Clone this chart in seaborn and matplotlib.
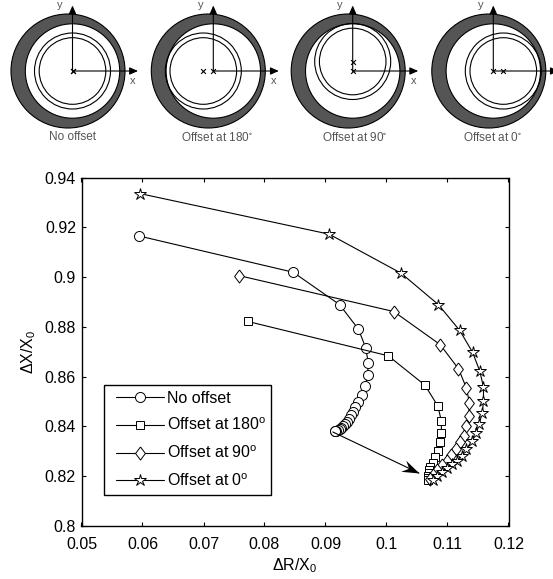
import matplotlib
matplotlib.use("Agg")
import matplotlib.pyplot as plt
from matplotlib.patches import Circle
from matplotlib.markers import MarkerStyle
from matplotlib.path import Path
from matplotlib.transforms import Affine2D
from matplotlib.legend_handler import HandlerLine2D
import numpy as np
import pandas as pd
import seaborn as sns

sns.set_style("ticks")
plt.rcParams['font.family'] = ['Liberation Sans', 'DejaVu Sans']
plt.rcParams['mathtext.default'] = 'regular'
plt.rcParams['mathtext.fontset'] = 'custom'
plt.rcParams['mathtext.rm'] = 'Liberation Sans'

series_names = ["No offset", "Offset at 180$^{o}$", "Offset at 90$^{o}$", "Offset at 0$^{o}$"]
no_offset_x = [.0594, .0847, .0923, .0954, .0966, .0970, .0969, .0965, .0960, .0954, .0948, .0945, .0941,
               .0938, .0935, .0932, .0929, .0926, .0923, .0920, .0918, .0916, .0915]
no_offset_y = [.9166, .9020, .8890, .8791, .8716, .8656, .8605, .8563, .8527, .8500, .8478, .8460, .8446,
               .8432, .8420, .8410, .8401, .8394, .8388, .8384, .8381, .8380, .8380]
off180_x = [.0773, .1003, .1063, .1084, .1090, .1090, .1088, .1084, .1080, .1076, .1072, .1070, .1069, .1068, .1068, .1068]
off180_y = [.8822, .8684, .8566, .8483, .8422, .8373, .8336, .8303, .8277, .8255, .8239, .8226, .8213, .8202, .8194, .8186]
off90_x = [.0759, .1012, .1088, .1118, .1131, .1136, .1135, .1131, .1127, .1120, .1114, .1106, .1099, .1091, .1083, .1077, .1071]
off90_y = [.9006, .8862, .8729, .8632, .8555, .8494, .8442, .8400, .8363, .8336, .8309, .8286, .8263, .8246, .8226, .8206, .8189]
off0_x = [.0596, .0906, .1024, .1085, .1120, .1141, .1153, .1159, .1159, .1157, .1152, .1147, .1140, .1131, .1123,
          .1115, .1107, .1099, .1091, .1083, .1077]
off0_y = [.9336, .9173, .9016, .8890, .8786, .8699, .8622, .8558, .8502, .8454, .8411, .8373, .8340, .8309, .8282,
          .8263, .8249, .8235, .8219, .8199, .8186]
x_ticks = [.05, .06, .07, .08, .09, .10, .11, .12]
x_tick_labels = ["0.05", "0.06", "0.07", "0.08", "0.09", "0.1", "0.11", "0.12"]
y_ticks = [.80, .82, .84, .86, .88, .90, .92, .94]
y_tick_labels = ["0.8", "0.82", "0.84", "0.86", "0.88", "0.9", "0.92", "0.94"]

panel_captions = ["No offset", "Offset at 180$^{\\circ}$", "Offset at 90$^{\\circ}$", "Offset at 0$^{\\circ}$"]
panel_origin_x = [72.5, 213.3, 352.7, 493.3]
caption_shift = [0, 3.5, 2, -1]
disk_shift = [-4.5, -5.0, -4.5, -4.5]
ring_dx = [0, -10, 0, 10]
ring_dy = [0, 0, 9.5, 0]
panel_has_x_label = [True, True, True, False]

W, H = 553, 579
fig = plt.figure(figsize=(W / 100, H / 100), dpi=100)

rows = []
for name, xs, ys in zip(series_names, [no_offset_x, off180_x, off90_x, off0_x], [no_offset_y, off180_y, off90_y, off0_y]):
    for i, (a, b) in enumerate(zip(xs, ys)):
        rows.append({"dR": a, "dX": b, "series": name, "i": i})
df = pd.DataFrame(rows)

diamond = [(0, 1), (.75, 0), (0, -1), (-.75, 0), (0, 1)]
L, R, T, B = 81.5, 508.5, 177.7, 526.0
ax = fig.add_axes([L / W, 1 - B / H, (R - L) / W, (B - T) / H])
sns.lineplot(data=df, x="dR", y="dX", hue="series", style="series", units="series", estimator=None, sort=False,
             palette=["black"] * 4, dashes=False, markers=["o", "s", diamond, "*"], ax=ax, legend=False, linewidth=0.8)
for line, ms in zip(ax.get_lines(), [7.2, 6, 9.4, 8.6]):
    line.set_markersize(ms)
    line.set_markerfacecolor("white")
    line.set_markeredgecolor("black")
    line.set_markeredgewidth(0.7)
ax.set_xlim(.05, .12)
ax.set_ylim(.80, .94)
ax.set_xticks(x_ticks, x_tick_labels)
ax.set_yticks(y_ticks, y_tick_labels)
ax.tick_params(direction="in", top=True, right=True, length=3, width=0.8, labelsize=11.5, color="black", labelcolor="black")
ax.tick_params(axis="x", pad=8)
ax.tick_params(axis="y", pad=4)
for s in ax.spines.values():
    s.set_linewidth(1.0)
    s.set_color("black")
ax.set_xlabel("$\\Delta$R/X$_0$", fontsize=11.5, color="black", labelpad=3)
ax.set_ylabel("$\\Delta$X/X$_0$", fontsize=11.5, color="black", labelpad=5)


class InsetHandle(HandlerLine2D):
    """Legend line indented from the frame, as in the reference."""
    def create_artists(self, legend, orig_handle, xdescent, ydescent, width, height, fontsize, trans):
        artists = super().create_artists(legend, orig_handle, xdescent, ydescent, width, height, fontsize, trans)
        for art in artists:
            art.set_xdata(4 + np.asarray(art.get_xdata(), dtype=float) * 48 / 52)
        return artists


lines = ax.get_lines()[:4]
leg = ax.legend(lines, series_names, loc="lower left",
                bbox_to_anchor=((104.3 - L) / (R - L), (B - 495) / (B - T), (271 - 104.3) / (R - L), (495 - 385) / (B - T)),
                mode="expand", fontsize=11.5, frameon=True, fancybox=False, framealpha=1, edgecolor="black",
                handlelength=3.25, handletextpad=0.3, labelspacing=0.7, borderaxespad=0, borderpad=0.38,
                handler_map={ln: InsetHandle() for ln in lines})
leg.get_frame().set_linewidth(1.0)
for c in leg.get_texts():
    c.set_color("black")

arrow_tail = (.0912, .8378)
arrow_tip = (.1053, .8213)
ax.plot([arrow_tail[0], arrow_tip[0]], [arrow_tail[1], arrow_tip[1]], color="black", lw=0.8, zorder=4)
head = MarkerStyle(Path([(0, 0), (-1, .35), (-.65, 0), (-1, -.35), (0, 0)]), transform=Affine2D().rotate_deg(-24.6))
ax.plot([arrow_tip[0]], [arrow_tip[1]], marker=head, ms=25, mfc="black", mec="none", mew=0, ls="none", zorder=5)

for cap, ox, cs, dshift, rx, ry, hasx in zip(panel_captions, panel_origin_x, caption_shift, disk_shift, ring_dx, ring_dy, panel_has_x_label):
    half = 72
    a = fig.add_axes([(ox - half) / W, 1 - 145 / H, 2 * half / W, 145 / H])
    a.set_xlim(-half, half)
    a.set_ylim(-74, 71)
    a.axis("off")
    a.patch.set_alpha(0)
    a.add_patch(Circle((dshift, 0), 57, fc="#555555", ec="black", lw=0.8))
    a.add_patch(Circle((0, 0), 47.2, fc="white", ec="black", lw=0.8))
    a.add_patch(Circle((rx, ry), 38, fc="none", ec="black", lw=0.8))
    a.add_patch(Circle((rx, ry), 33.3, fc="none", ec="black", lw=0.8))
    sns.scatterplot(x=[0, rx], y=[0, ry], marker="x", color="black", s=12, linewidth=0.8, ax=a, legend=False, clip_on=False)
    for tip in [(0, 65.5), (65.5, 0)]:
        a.annotate("", xy=tip, xytext=(0, 0), annotation_clip=False,
                   arrowprops=dict(arrowstyle="-|>,head_length=0.5,head_width=0.22", color="black", lw=0.8, shrinkA=0, shrinkB=0))
    a.text(-12.5, 66, "y", fontsize=8, color="#555555", ha="center", va="center")
    if hasx:
        a.text(60.5, -10, "x", fontsize=8, color="#555555", ha="center", va="center")
    a.text(cs, -66.5, cap, fontsize=8.5, color="#555555", ha="center", va="center")
    a.set_xlabel("")
    a.set_ylabel("")

fig.savefig("out.png", dpi=100)
